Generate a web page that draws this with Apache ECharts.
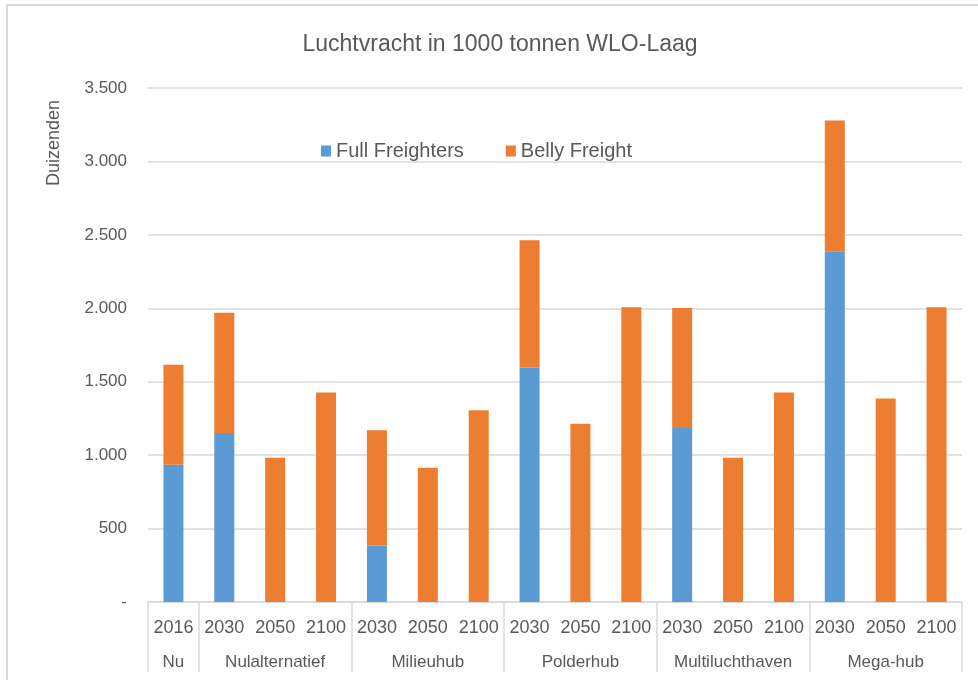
<!DOCTYPE html>
<html>
<head>
<meta charset="UTF-8">
<script src="https://cdn.jsdelivr.net/npm/echarts@6/dist/echarts.min.js"></script>
<style>
html, body { margin: 0; padding: 0; background: #fff; overflow: hidden; }
#main { position: absolute; left: 0; top: 0; width: 978px; height: 680px; }
#frame { position: absolute; left: 6px; top: 4px; width: 1000px; height: 700px; border: 2px solid #d9d9d9; pointer-events: none; }
</style>
</head>
<body>
<div id="frame"></div>
<div id="main"></div>
<script>
// data (1000 tonnen)
var years = ['2016', '2030', '2050', '2100', '2030', '2050', '2100', '2030', '2050', '2100', '2030', '2050', '2100', '2030', '2050', '2100'];
var groups = ['Nu', 'Nulalternatief', 'Milieuhub', 'Polderhub', 'Multiluchthaven', 'Mega-hub'];
var groupSizes = [1, 3, 3, 3, 3, 3];
var fullFreighters = [935, 1150, 0, 0, 385, 0, 0, 1596, 0, 0, 1184, 0, 0, 2385, 0, 0];
var bellyFreight = [680, 820, 982, 1426, 785, 914, 1306, 867, 1213, 2007, 818, 982, 1426, 894, 1385, 2007];

var textColor = '#595959';
var lineColor = '#d9d9d9';
var font = 'Liberation Sans';

// group label on the middle year of each group, group start indices for the separator ticks
var groupLabels = [];
var groupStarts = [];
var idx = 0;
for (var g = 0; g < groups.length; g++) {
	groupStarts.push(idx);
	for (var k = 0; k < groupSizes[g]; k++) {
		groupLabels.push(k === Math.floor(groupSizes[g] / 2) ? groups[g] : '');
	}
	idx += groupSizes[g];
}

function thousands(v) {
	if (v === 0) return '-';
	var s = String(v);
	return s.length > 3 ? s.slice(0, s.length - 3) + '.' + s.slice(s.length - 3) : s;
}

var chart = echarts.init(document.getElementById('main'));
chart.setOption({
	animation: false,
	title: {
		text: 'Luchtvracht in 1000 tonnen WLO-Laag',
		left: 500,
		textAlign: 'center',
		top: 33,
		padding: 0,
		textStyle: { color: textColor, fontFamily: font, fontSize: 23, fontWeight: 'normal' }
	},
	legend: {
		left: 321,
		top: 141,
		padding: 0,
		icon: 'rect',
		itemWidth: 10,
		itemHeight: 11,
		itemGap: 42,
		textStyle: { color: textColor, fontFamily: font, fontSize: 20 },
		data: ['Full Freighters', 'Belly Freight']
	},
	grid: { left: 148, right: 16, top: 88, bottom: 78, containLabel: false },
	graphic: [{
		type: 'text',
		x: 54,
		y: 143,
		rotation: Math.PI / 2,
		style: { text: 'Duizenden', fill: textColor, font: '18px "' + font + '"', textAlign: 'center', textVerticalAlign: 'middle' }
	}],
	xAxis: [{
		type: 'category',
		data: years,
		position: 'bottom',
		axisLine: { show: true, lineStyle: { color: lineColor, width: 1.5 } },
		axisTick: {
			show: true,
			length: 70,
			interval: function (i) { return groupStarts.indexOf(i) >= 0; },
			lineStyle: { color: lineColor, width: 1.5 }
		},
		axisLabel: { interval: 0, margin: 17, color: textColor, fontFamily: font, fontSize: 18 }
	}, {
		type: 'category',
		data: groupLabels,
		position: 'bottom',
		axisLine: { show: false },
		axisTick: { show: false },
		axisLabel: { interval: 0, margin: 52, color: textColor, fontFamily: font, fontSize: 17 }
	}],
	yAxis: {
		type: 'value',
		min: 0,
		max: 3500,
		interval: 500,
		axisLine: { show: false },
		axisTick: { show: false },
		splitLine: { lineStyle: { color: lineColor, width: 1.5 } },
		axisLabel: { margin: 21, color: textColor, fontFamily: font, fontSize: 17, formatter: thousands }
	},
	series: [{
		name: 'Full Freighters',
		type: 'bar',
		stack: 'vracht',
		barWidth: 20,
		itemStyle: { color: '#5b9bd5' },
		data: fullFreighters
	}, {
		name: 'Belly Freight',
		type: 'bar',
		stack: 'vracht',
		barWidth: 20,
		itemStyle: { color: '#ed7d31' },
		data: bellyFreight
	}]
});
</script>
</body>
</html>
